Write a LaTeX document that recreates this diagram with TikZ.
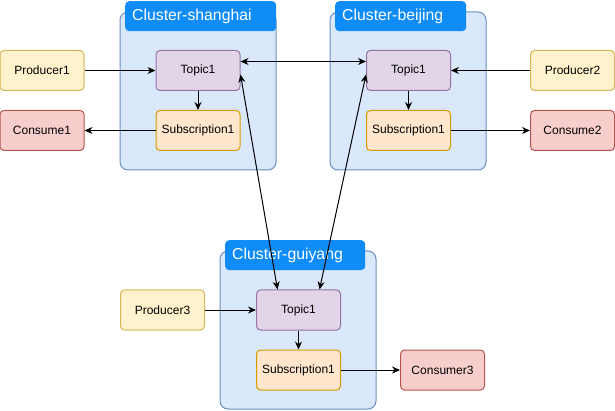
\documentclass[tikz,border=0pt]{standalone}
\usepackage{fontspec}
\setmainfont{Liberation Sans}
\usetikzlibrary{arrows.meta,positioning}
\definecolor{clusterfill}{HTML}{DAE8FC}
\definecolor{clusterdraw}{HTML}{6C8EBF}
\definecolor{tabfill}{HTML}{108CF8}
\definecolor{topicfill}{HTML}{E1D5E7}
\definecolor{topicdraw}{HTML}{9673A6}
\definecolor{subfill}{HTML}{FFE6CC}
\definecolor{subdraw}{HTML}{D79B00}
\definecolor{prodfill}{HTML}{FFF2CC}
\definecolor{proddraw}{HTML}{D6B656}
\definecolor{consfill}{HTML}{F8CECC}
\definecolor{consdraw}{HTML}{B85450}

\begin{document}
\begin{tikzpicture}[
    x=1pt, y=-1pt,
    node distance=19pt and 71pt,
    cluster/.style={rectangle, draw=clusterdraw, fill=clusterfill, line width=1pt, rounded corners=8pt, minimum width=156pt, minimum height=158pt},
    tab/.style={rectangle, fill=tabfill, rounded corners=4pt, anchor=north west, text=white, font=\fontsize{15.8}{18}\selectfont, align=left, inner xsep=7pt, minimum height=30pt},
    box/.style={rectangle, line width=1pt, rounded corners=4pt, minimum width=84pt, minimum height=40pt, font=\fontsize{12}{14}\selectfont},
    topic/.style={box, draw=topicdraw, fill=topicfill},
    subbox/.style={box, draw=subdraw, fill=subfill},
    producer/.style={box, draw=proddraw, fill=prodfill},
    consumer/.style={box, draw=consdraw, fill=consfill},
    line/.style={-{Stealth[length=8pt,width=7pt]}, line width=1pt},
    dline/.style={{Stealth[length=8pt,width=7pt]}-{Stealth[length=8pt,width=7pt]}, line width=1pt}
]
    \useasboundingbox (0,0) rectangle (615,411);

    % clusters
    \node[cluster] (sh) at (198,91) {};
    \node[tab, text width=137pt] (shtab) at (125,1) {Cluster-shanghai};
    \node[cluster] (bj) at (408,91) {};
    \node[tab, text width=117pt] (bjtab) at (335,1) {Cluster-beijing};
    \node[cluster] (gy) at (298,330) {};
    \node[tab, text width=126pt] (gytab) at (225,240) {Cluster-guiyang};

    % shanghai
    \node[topic] (t1) at (198,70.5) {Topic1};
    \node[subbox, below=of t1] (s1) {Subscription1};
    \node[producer, left=of t1] (p1) {Producer1};
    \node[consumer, left=of s1] (c1) {Consume1};

    % beijing
    \node[topic] (t2) at (408.5,70.5) {Topic1};
    \node[subbox, below=of t2] (s2) {Subscription1};
    \node[producer, right=79pt of t2] (p2) {Producer2};
    \node[consumer, right=79pt of s2] (c2) {Consume2};

    % guiyang
    \node[topic] (t3) at (298.5,310) {Topic1};
    \node[subbox, below=of t3] (s3) {Subscription1};
    \node[producer, left=51pt of t3] (p3) {Producer3};
    \node[consumer, right=59pt of s3] (c3) {Consumer3};

    \draw[line] (p1) -- (t1);
    \draw[line] (t1) -- (s1);
    \draw[line] (s1) -- (c1);
    \draw[line] (p2) -- (t2);
    \draw[line] (t2) -- (s2);
    \draw[line] (s2) -- (c2);
    \draw[line] (p3) -- (t3);
    \draw[line] (t3) -- (s3);
    \draw[line] (s3) -- (c3);

    % replication
    \draw[dline] ([yshift=9pt]t1.east) -- ([yshift=9pt]t2.west);
    \draw[dline] ([yshift=-4pt]t1.east) -- ([xshift=-21pt]t3.north);
    \draw[dline] ([yshift=-4pt]t2.west) -- ([xshift=21pt]t3.north);
\end{tikzpicture}
\end{document}
